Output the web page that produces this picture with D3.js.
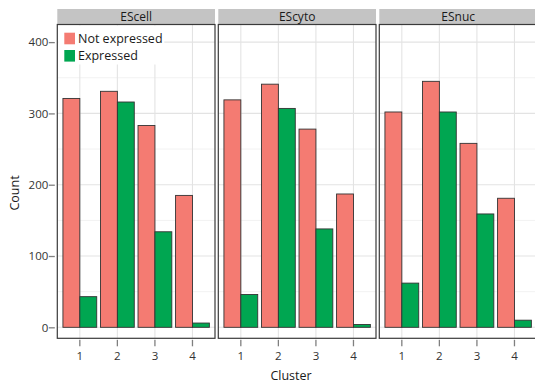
<!DOCTYPE html>
<html><head><meta charset="utf-8">
<script src="https://cdn.jsdelivr.net/npm/d3@7"></script>
<style>
html,body{margin:0;padding:0;background:#fff;}
svg{display:block;font-family:"Open Sans","Noto Sans",sans-serif;}
</style></head>
<body>
<svg id="chart" width="535" height="385"></svg>
<script>
const panels = ["EScell", "EScyto", "ESnuc"];
const clusters = ["1", "2", "3", "4"];
const seriesNames = ["Not expressed", "Expressed"];
const colors = ["#F47B72", "#00A651"];
const notExpressed = {
  EScell: [321, 331, 283, 185],
  EScyto: [319, 341, 278, 187],
  ESnuc:  [302, 345, 258, 181]
};
const expressed = {
  EScell: [43, 316, 134, 6],
  EScyto: [46, 307, 138, 4],
  ESnuc:  [62, 302, 159, 10]
};
const yTicks = [0, 100, 200, 300, 400];
const yMinor = [50, 150, 250, 350];

const svg = d3.select("#chart");
const panelLeft = [57.3, 218.3, 379.3];
const panelW = 157.7;
const panelTop = 24.5, panelBottom = 338.3;
const stripTop = 9;

const y = d3.scaleLinear().domain([-15.4, 424.7]).range([panelBottom, panelTop]);
const x = d3.scaleBand().domain(clusters).range([0, panelW]).paddingInner(0.1).paddingOuter(0.15);
const xs = d3.scaleBand().domain(seriesNames).range([0, x.bandwidth()]).padding(0);
const color = d3.scaleOrdinal().domain(seriesNames).range(colors);

panels.forEach((p, pi) => {
  const g = svg.append("g").attr("transform", `translate(${panelLeft[pi]},0)`);
  // strip
  g.append("rect").attr("x", 0).attr("y", stripTop).attr("width", panelW).attr("height", panelTop - stripTop)
    .attr("fill", "#C4C4C4");
  g.append("text").attr("x", panelW / 2).attr("y", 20.5).attr("text-anchor", "middle")
    .attr("font-size", 12).attr("fill", "#1a1a1a").text(p);
  // background
  g.append("rect").attr("x", 0).attr("y", panelTop).attr("width", panelW).attr("height", panelBottom - panelTop).attr("fill", "#fff");
  // grid
  g.selectAll(".minor").data(yMinor).enter().append("line")
    .attr("x1", 0).attr("x2", panelW).attr("y1", d => y(d)).attr("y2", d => y(d))
    .attr("stroke", "#F2F2F2").attr("stroke-width", 1);
  g.selectAll(".major").data(yTicks).enter().append("line")
    .attr("x1", 0).attr("x2", panelW).attr("y1", d => y(d)).attr("y2", d => y(d))
    .attr("stroke", "#E3E3E3").attr("stroke-width", 1.1);
  g.selectAll(".vmajor").data(clusters).enter().append("line")
    .attr("x1", d => x(d) + x.bandwidth() / 2).attr("x2", d => x(d) + x.bandwidth() / 2)
    .attr("y1", panelTop).attr("y2", panelBottom)
    .attr("stroke", "#E3E3E3").attr("stroke-width", 1.1);

  // legend in first panel
  if (pi === 0) {
    const lg = g.append("g");
    lg.append("rect").attr("x", 1).attr("y", panelTop + 1).attr("width", 106).attr("height", 39).attr("fill", "#fff");
    seriesNames.forEach((s, si) => {
      lg.append("rect").attr("x", 7).attr("y", 32.7 + si * 17.3).attr("width", 10.7).attr("height", 11.6).attr("fill", color(s));
      lg.append("text").attr("x", 20.7).attr("y", 42.6 + si * 17.3).attr("font-size", 12.5).attr("fill", "#1a1a1a").text(s);
    });
  }

  // bars
  const rows = clusters.map((c, ci) => ({ c, vals: [notExpressed[p][ci], expressed[p][ci]] }));
  const cg = g.selectAll(".cl").data(rows).enter().append("g").attr("transform", d => `translate(${x(d.c)},0)`);
  cg.selectAll("rect").data(d => d.vals.map((v, i) => ({ s: seriesNames[i], v }))).enter().append("rect")
    .attr("x", d => xs(d.s)).attr("width", xs.bandwidth())
    .attr("y", d => y(d.v)).attr("height", d => y(0) - y(d.v))
    .attr("fill", d => color(d.s)).attr("stroke", "#333").attr("stroke-width", 0.9);

  // border
  g.append("rect").attr("x", 0).attr("y", panelTop).attr("width", panelW).attr("height", panelBottom - panelTop)
    .attr("fill", "none").attr("stroke", "#3a3a3a").attr("stroke-width", 1.2);

  // x axis
  const xa = g.append("g").attr("transform", `translate(0,${panelBottom})`)
    .call(d3.axisBottom(x).tickSize(6).tickPadding(8).tickSizeOuter(0));
  xa.select(".domain").remove();
  xa.selectAll(".tick line").attr("stroke", "#7f7f7f").attr("stroke-width", 1.3).attr("y1", 1.5).attr("y2", 8);
  xa.selectAll(".tick text").attr("font-size", 11.5).attr("fill", "#333").attr("font-family", "Open Sans, sans-serif");
});

// y axis
const ya = svg.append("g").attr("transform", `translate(${panelLeft[0]},0)`)
  .call(d3.axisLeft(y).tickValues(yTicks).tickSize(6).tickPadding(3).tickSizeOuter(0));
ya.select(".domain").remove();
ya.selectAll(".tick line").attr("stroke", "#7f7f7f").attr("stroke-width", 1.3).attr("x1", -2.5).attr("x2", -8.5);
ya.selectAll(".tick text").attr("font-size", 11.5).attr("fill", "#333").attr("font-family", "Open Sans, sans-serif").attr("x", -9);

svg.append("text").attr("x", 291).attr("y", 380).attr("text-anchor", "middle").attr("font-size", 12.5).attr("fill", "#1a1a1a").text("Cluster");
svg.append("text").attr("transform", "translate(19,193) rotate(-90)").attr("text-anchor", "middle").attr("font-size", 12.5).attr("fill", "#1a1a1a").text("Count");
</script>
</body></html>
